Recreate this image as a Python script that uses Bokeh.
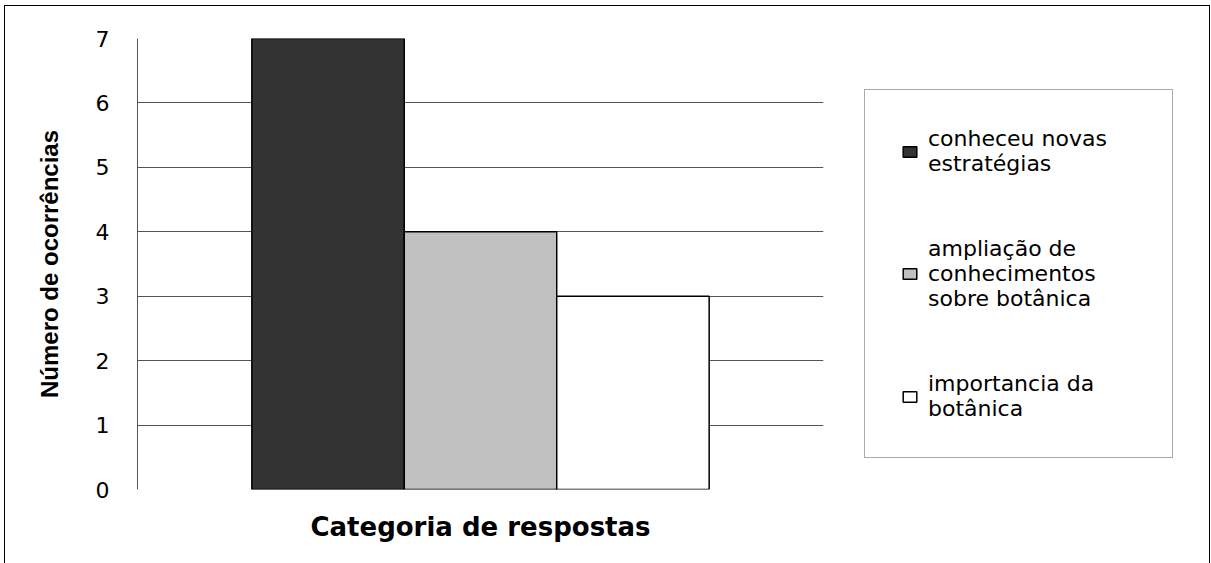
from bokeh.plotting import figure
from bokeh.layouts import row
from bokeh.models import (ColumnDataSource, FactorRange, Range1d, Legend, LegendItem,
                          SingleIntervalTicker, Title)
from bokeh.embed import file_html
from bokeh.resources import INLINE

categories = ["conheceu novas estratégias",
              "ampliação de conhecimentos sobre botânica",
              "importancia da botânica"]
legend_labels = ["conheceu novas\nestratégias",
                 "ampliação de\nconhecimentos\nsobre botânica",
                 "importancia da\nbotânica"]
values = [7, 4, 3]
colors = ["#333333", "#c0c0c0", "#ffffff"]
y_title = "Número de ocorrências"
x_title = "Categoria de respostas"

src = ColumnDataSource(dict(cat=categories, val=values, col=colors))

# ---------------- main chart ----------------
p = figure(width=859, height=557,
           x_range=FactorRange(factors=categories, range_padding=0.5),
           y_range=Range1d(0, 7),
           output_backend="svg", toolbar_location=None,
           min_border_left=132, min_border_right=41,
           min_border_top=32, min_border_bottom=74)
p.outline_line_color = None
p.background_fill_color = "white"
p.border_fill_color = "white"

p.vbar(x="cat", top="val", width=1.0, source=src,
       fill_color="col", line_color="black", line_width=1.5)

p.xgrid.grid_line_color = None
p.ygrid.grid_line_color = "#555555"
p.ygrid.grid_line_width = 1
p.ygrid.ticker = SingleIntervalTicker(interval=1)

p.yaxis.ticker = SingleIntervalTicker(interval=1)
p.yaxis.major_tick_in = 0
p.yaxis.major_tick_out = 0
p.yaxis.minor_tick_in = 0
p.yaxis.minor_tick_out = 0
p.yaxis.axis_line_color = "#555555"
p.yaxis.major_label_standoff = 28
p.yaxis.major_label_text_font = "DejaVu Sans"
p.yaxis.major_label_text_font_size = "22px"
p.yaxis.major_label_text_color = "black"
p.yaxis.axis_label = y_title
p.yaxis.axis_label_text_font = "Liberation Sans"
p.yaxis.axis_label_text_font_style = "bold"
p.yaxis.axis_label_text_font_size = "24px"
p.yaxis.axis_label_text_color = "black"
p.yaxis.axis_label_standoff = 30

p.xaxis.visible = False
xt = Title(text=x_title, align="center", vertical_align="bottom",
           text_font="DejaVu Sans", text_font_style="bold",
           text_font_size="26px", text_color="black", standoff=40, offset=-9)
p.add_layout(xt, "below")

# ---------------- legend panel ----------------
# (its frame is aligned by the row with the main chart's frame)
p2 = figure(width=345, height=557,
            x_range=FactorRange(factors=categories), y_range=Range1d(100, 101),
            x_axis_location=None, y_axis_location=None,
            output_backend="svg", toolbar_location=None,
            min_border_left=0, min_border_right=0,
            min_border_top=0, min_border_bottom=0)
p2.outline_line_color = None
p2.grid.visible = False
p2.background_fill_color = "white"
p2.border_fill_color = "white"
r2 = p2.vbar(x="cat", top="val", width=1.0, source=src,
             fill_color="col", line_color="black", line_width=1.5)
r2.visible = False

items = [LegendItem(label=legend_labels[i], renderers=[r2], index=i)
         for i in range(len(categories))]
legend = Legend(items=items, location=(0, 31), margin=0)
legend.label_text_font = "DejaVu Sans"
legend.label_text_font_size = "22px"
legend.label_text_line_height = 1.06
legend.label_text_color = "black"
legend.glyph_width = 17
legend.glyph_height = 13
legend.label_standoff = 10
legend.padding = 36
legend.spacing = 60
legend.label_width = 208
legend.border_line_color = "#555555"
legend.border_line_width = 1
legend.background_fill_color = "white"
legend.background_fill_alpha = 1
p2.add_layout(legend, "center")

layout = row(p, p2, spacing=0)
layout.styles = {"margin-left": "4px", "margin-top": "5px",
                 "border-left": "1px solid black", "border-top": "1px solid black",
                 "border-right": "1px solid black"}

open("out.html", "w").write(file_html(layout, INLINE))
